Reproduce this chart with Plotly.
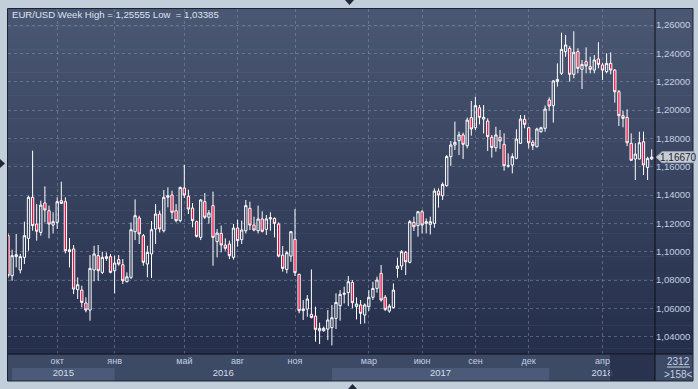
import plotly.graph_objects as go
import pandas as pd
import numpy as np

# ---------------- data (weekly EUR/USD candles) ----------------
opens = [1.1113, 1.0831, 1.0979, 1.0871, 1.0960, 1.1094, 1.1384, 1.1195, 1.1136, 1.1344,
         1.1289, 1.1188, 1.1207, 1.1360, 1.1353, 1.1014, 1.1019, 1.0732, 1.0729, 1.0638,
         1.0588, 1.0871, 1.0972, 1.0854, 1.0965, 1.0965, 1.0866, 1.0944, 1.0908, 1.0788,
         1.0819, 1.1141, 1.1238, 1.1113, 1.0913, 1.0984, 1.1160, 1.1266, 1.1148, 1.1384,
         1.1400, 1.1289, 1.1219, 1.1449, 1.1391, 1.1308, 1.1212, 1.1101, 1.1353, 1.1243,
         1.1325, 1.1071, 1.1129, 1.1047, 1.1054, 1.0960, 1.1167, 1.1085, 1.1148, 1.1306,
         1.1188, 1.1148, 1.1231, 1.1158, 1.1231, 1.1235, 1.1195, 1.0976, 1.0875, 1.0969,
         1.1087, 1.0840, 1.0584, 1.0595, 1.0558, 1.0546, 1.0442, 1.0442, 1.0454, 1.0464,
         1.0529, 1.0619, 1.0699, 1.0711, 1.0783, 1.0612, 1.0624, 1.0553, 1.0612, 1.0678,
         1.0741, 1.0847, 1.0678, 1.0581, 1.0605, 1.0882, 1.0899, 1.0995, 1.0925, 1.1207,
         1.1184, 1.1282, 1.1200, 1.1193, 1.1200, 1.1428, 1.1395, 1.1466, 1.1671, 1.1753,
         1.1784, 1.1824, 1.1748, 1.1946, 1.1875, 1.2016, 1.1936, 1.1922, 1.1807, 1.1734,
         1.1807, 1.1758, 1.1603, 1.1612, 1.1659, 1.1765, 1.1934, 1.1875, 1.1772, 1.1741,
         1.1847, 1.1871, 1.2071, 1.2031, 1.2200, 1.2259, 1.2412, 1.2435, 1.2252, 1.2412,
         1.2287, 1.2341, 1.2306, 1.2282, 1.2360, 1.2318, 1.2271, 1.2329, 1.2282, 1.2129,
         1.1960, 1.1948, 1.1765, 1.1654, 1.1654, 1.1776, 1.1595, 1.1655]
highs = [1.1130, 1.1014, 1.1125, 1.0984, 1.1212, 1.1395, 1.1713, 1.1336, 1.1360, 1.1461,
         1.1325, 1.1278, 1.1384, 1.1494, 1.1384, 1.1096, 1.1047, 1.0819, 1.0760, 1.0678,
         1.0976, 1.1042, 1.1047, 1.1000, 1.0995, 1.0984, 1.0972, 1.0976, 1.0948, 1.0854,
         1.1207, 1.1369, 1.1254, 1.1125, 1.1042, 1.1216, 1.1336, 1.1289, 1.1435, 1.1454,
         1.1431, 1.1336, 1.1459, 1.1614, 1.1438, 1.1343, 1.1219, 1.1372, 1.1414, 1.1294,
         1.1424, 1.1160, 1.1184, 1.1094, 1.1078, 1.1195, 1.1226, 1.1219, 1.1365, 1.1353,
         1.1247, 1.1325, 1.1285, 1.1259, 1.1278, 1.1242, 1.1207, 1.1040, 1.1007, 1.1146,
         1.1301, 1.0845, 1.0659, 1.0694, 1.0875, 1.0612, 1.0499, 1.0471, 1.0588, 1.0624,
         1.0706, 1.0729, 1.0753, 1.0828, 1.0800, 1.0678, 1.0659, 1.0635, 1.0729, 1.0788,
         1.0824, 1.0906, 1.0694, 1.0631, 1.0776, 1.0958, 1.1012, 1.1005, 1.1224, 1.1247,
         1.1287, 1.1294, 1.1235, 1.1247, 1.1447, 1.1447, 1.1489, 1.1682, 1.1781, 1.1918,
         1.1847, 1.1840, 1.1946, 1.2064, 1.2094, 1.2035, 1.2035, 1.1941, 1.1824, 1.1882,
         1.1859, 1.1835, 1.1694, 1.1694, 1.1864, 1.1965, 1.1965, 1.1882, 1.1788, 1.1875,
         1.1882, 1.2031, 1.2089, 1.2212, 1.2329, 1.2546, 1.2529, 1.2452, 1.25555, 1.2435,
         1.2353, 1.2442, 1.2376, 1.2388, 1.2478, 1.2334, 1.2400, 1.2407, 1.2289, 1.2141,
         1.1995, 1.2005, 1.1835, 1.1765, 1.1847, 1.1847, 1.1670, 1.1722]
lows = [1.0815, 1.0795, 1.0889, 1.0847, 1.0913, 1.1007, 1.1148, 1.1078, 1.1113, 1.1207,
        1.1094, 1.1129, 1.1160, 1.1336, 1.0988, 1.0889, 1.0701, 1.0666, 1.0607, 1.0572,
        1.0513, 1.0791, 1.0795, 1.0842, 1.0936, 1.0847, 1.0706, 1.0901, 1.0772, 1.0784,
        1.0807, 1.1082, 1.1054, 1.0901, 1.0819, 1.0814, 1.1054, 1.1136, 1.1136, 1.1313,
        1.1231, 1.1207, 1.1207, 1.1379, 1.1266, 1.1172, 1.1101, 1.1082, 1.1231, 1.1198,
        1.0901, 1.0960, 1.0995, 1.1007, 1.0948, 1.0944, 1.1035, 1.1054, 1.1129, 1.1153,
        1.1144, 1.1129, 1.1136, 1.1118, 1.1148, 1.1101, 1.0960, 1.0859, 1.0847, 1.0929,
        1.0828, 1.0565, 1.0518, 1.0541, 1.0529, 1.0365, 1.0348, 1.0435, 1.0376, 1.03385,
        1.0454, 1.0513, 1.0635, 1.0616, 1.0600, 1.0522, 1.0489, 1.0494, 1.0581, 1.0659,
        1.0711, 1.0647, 1.0581, 1.0569, 1.0600, 1.0816, 1.0871, 1.0835, 1.0918, 1.1146,
        1.1106, 1.1129, 1.1129, 1.1122, 1.1169, 1.1311, 1.1365, 1.1459, 1.1605, 1.1718,
        1.1682, 1.1654, 1.1729, 1.1819, 1.1859, 1.1899, 1.1835, 1.1711, 1.1664, 1.1706,
        1.1725, 1.1572, 1.1593, 1.1553, 1.1652, 1.1760, 1.1871, 1.1729, 1.1718, 1.1736,
        1.1840, 1.1847, 1.1995, 1.1911, 1.2165, 1.2247, 1.2376, 1.2200, 1.2224, 1.2259,
        1.2148, 1.2259, 1.2259, 1.2259, 1.2294, 1.2212, 1.2259, 1.2252, 1.2052, 1.1887,
        1.1878, 1.1745, 1.1642, 1.1506, 1.1652, 1.1541, 1.1506, 1.1647]
closes = [1.0831, 1.0972, 1.0965, 1.0965, 1.1113, 1.1384, 1.1184, 1.1144, 1.1329, 1.1294,
          1.1195, 1.1212, 1.1353, 1.1341, 1.1007, 1.1000, 1.0736, 1.0767, 1.0642, 1.0588,
          1.0882, 1.0984, 1.0866, 1.0960, 1.0953, 1.0854, 1.0920, 1.0913, 1.0795, 1.0823,
          1.1155, 1.1254, 1.1125, 1.0925, 1.0995, 1.1155, 1.1266, 1.1160, 1.1384, 1.1395,
          1.1278, 1.1219, 1.1454, 1.1400, 1.1301, 1.1219, 1.1108, 1.1365, 1.1243, 1.1273,
          1.1101, 1.1132, 1.1047, 1.1024, 1.0972, 1.1167, 1.1078, 1.1153, 1.1325, 1.1188,
          1.1153, 1.1231, 1.1144, 1.1231, 1.1240, 1.1200, 1.0969, 1.0882, 1.0993, 1.1141,
          1.0852, 1.0584, 1.0595, 1.0666, 1.0536, 1.0452, 1.0459, 1.0459, 1.0518, 1.0534,
          1.0642, 1.0699, 1.0706, 1.0788, 1.0640, 1.0631, 1.0565, 1.0624, 1.0678, 1.0741,
          1.0800, 1.0659, 1.0593, 1.0616, 1.0729, 1.0899, 1.1000, 1.0929, 1.1212, 1.1176,
          1.1282, 1.1188, 1.1212, 1.1212, 1.1428, 1.1400, 1.1475, 1.1671, 1.1753, 1.1772,
          1.1824, 1.1758, 1.1929, 1.1866, 1.2031, 1.1948, 1.1948, 1.1812, 1.1736, 1.1824,
          1.1781, 1.1607, 1.1606, 1.1671, 1.1795, 1.1936, 1.1899, 1.1769, 1.1748, 1.1866,
          1.1875, 1.2007, 1.2028, 1.2205, 1.2216, 1.2428, 1.2459, 1.2252, 1.2407, 1.2294,
          1.2322, 1.2311, 1.2287, 1.2353, 1.2322, 1.2282, 1.2329, 1.2282, 1.2129, 1.1960,
          1.1941, 1.1769, 1.1645, 1.1689, 1.1769, 1.1612, 1.1659, 1.1667]

# week dates (Mondays) plus the three short holiday bars the terminal shows
weekly = list(pd.date_range("2015-07-13", "2018-06-25", freq="W-MON").strftime("%Y-%m-%d"))
holiday_bars = ["2015-12-25", "2016-12-25", "2017-12-24"]
dates = sorted(weekly + holiday_bars)

price_ticks = [1.04, 1.06, 1.08, 1.10, 1.12, 1.14, 1.16, 1.18, 1.20, 1.22, 1.24, 1.26]
tick_months = ["2015-10-01", "2016-01-01", "2016-05-01", "2016-08-01", "2016-11-01",
               "2017-03-01", "2017-06-01", "2017-09-01", "2017-12-01", "2018-04-01"]
tick_text = ["окт", "янв", "май", "авг", "ноя", "мар", "июн", "сен", "дек", "апр"]
years = ["2015", "2016", "2017", "2018"]
title_text = "EUR/USD Week High = 1,25555 Low\u00a0 = 1,03385"
counter_text = "2312"

# ---------------- geometry ----------------
W, H = 698, 389
PL, PR, PT, PB = 8, 655, 9, 354      # plot area in px
RPX = 693                             # right panel right edge
BBY = 381                             # bottom panel bottom edge
BAR_PX = 4.1                          # px per bar

n = len(opens)
idx = list(range(n))
dts = pd.to_datetime(dates[:n])

def first_bar(d):
    return int(np.argmax(dts >= pd.Timestamp(d)))

tick_pos = [first_bar(m) for m in tick_months]
x_lo = 0.0
x_hi = (PR - PL) / BAR_PX
y_per_px = 0.02 / 28.34
y_hi = 1.26 + (25.0 - PT) * y_per_px
y_lo = 1.04 - (PB - 336.7) * y_per_px

def xp(px):
    return (px - PL) / (PR - PL)

def yp(py):
    return (PB - py) / (PB - PT)

FONT = "Liberation Sans, Arial, sans-serif"
LBL = "#c4cfe0"

fig = go.Figure()
fig.add_trace(go.Candlestick(
    x=idx, open=opens, high=highs, low=lows, close=closes,
    increasing=dict(line=dict(color="#ffffff", width=1), fillcolor="rgba(0,0,0,0)"),
    decreasing=dict(line=dict(color="#ffffff", width=1), fillcolor="#e8103c"),
    whiskerwidth=0, showlegend=False, text=dates[:n], hoverinfo="text+y",
))

# year bands computed from dates
ystarts = [max(first_bar(y + "-01-01"), 1) for y in years]
yends = ystarts[1:] + [x_hi]
year_centers = [(a + b) / 2 for a, b in zip(ystarts, yends)]
fig.add_trace(go.Scatter(x=year_centers, y=[None] * len(years), xaxis="x2",
                         showlegend=False, hoverinfo="skip"))

shapes = []
# frame gradient behind plot + right panel
top_c = np.array([75, 88, 115])
bot_c = np.array([37, 47, 76])
NB = 60
for k in range(NB):
    t = (k + 0.5) / NB
    c = top_c + (bot_c - top_c) * t
    y1 = PT + (PB - PT) * k / NB
    y2 = PT + (PB - PT) * (k + 1) / NB + 0.6
    shapes.append(dict(type="rect", xref="paper", yref="paper", layer="below",
                       x0=xp(PL), x1=xp(RPX), y0=yp(y2), y1=yp(y1),
                       fillcolor="rgb(%d,%d,%d)" % tuple(c.astype(int)), line=dict(width=0)))
# bottom panel
shapes.append(dict(type="rect", xref="paper", yref="paper", layer="below",
                   x0=xp(PL), x1=xp(RPX), y0=yp(BBY), y1=yp(PB),
                   fillcolor="#3d4a66", line=dict(width=0)))
# alternating year bands
for k, (a, b) in enumerate(zip(ystarts, yends)):
    if k % 2 == 0:
        shapes.append(dict(type="rect", xref="x", yref="paper", layer="below",
                           x0=a, x1=b, y0=yp(BBY), y1=yp(368),
                           fillcolor="#4b5a78", line=dict(width=0)))
# dark overlay on the bottom axis (current view marker)
shapes.append(dict(type="rect", xref="paper", yref="paper", layer="above",
                   x0=xp(610), x1=xp(PR), y0=yp(BBY), y1=yp(PB + 0.5),
                   fillcolor="rgba(36,46,74,0.82)", line=dict(width=0)))
# separator lines
shapes.append(dict(type="line", xref="paper", yref="paper", layer="above",
                   x0=xp(PR), x1=xp(PR), y0=yp(BBY), y1=yp(PT),
                   line=dict(color="#0c0f16", width=1)))
shapes.append(dict(type="line", xref="paper", yref="paper", layer="above",
                   x0=xp(PL), x1=xp(RPX), y0=yp(PB), y1=yp(PB),
                   line=dict(color="#0c0f16", width=1)))
# outer border
shapes.append(dict(type="rect", xref="paper", yref="paper", layer="above",
                   x0=xp(PL - 0.5), x1=xp(RPX), y0=yp(BBY), y1=yp(PT - 0.5),
                   line=dict(color="#1c2232", width=1), fillcolor="rgba(0,0,0,0)"))
# counter underline
shapes.append(dict(type="line", xref="paper", yref="paper", layer="above",
                   x0=xp(667), x1=xp(690), y0=yp(367), y1=yp(367),
                   line=dict(color=LBL, width=1)))
# current price marker
last = closes[-1]
hh = 5.5 * y_per_px
path = "M %f,%f L %f,%f L %f,%f L %f,%f L %f,%f Z" % (
    xp(656), last, xp(662), last + hh, xp(694), last + hh, xp(694), last - hh, xp(662), last - hh)
shapes.append(dict(type="path", xref="paper", yref="y", layer="above", path=path,
                   fillcolor="#c9ced6", line=dict(color="#9aa3b0", width=1)))
# UI triangles
def tri(pts):
    s = "M " + " L ".join("%f,%f" % (xp(a), yp(b)) for a, b in pts) + " Z"
    return dict(type="path", xref="paper", yref="paper", layer="above", path=s,
                fillcolor="#1f2738", line=dict(width=0))
shapes.append(tri([(345, 0), (354, 0), (349.5, 5)]))
shapes.append(tri([(348, 389), (357, 389), (352.5, 384)]))
shapes.append(tri([(0, 159), (0, 168), (5, 163.5)]))

annotations = [
    dict(text=title_text, xref="paper", yref="paper", x=xp(10), y=yp(14.5),
         xanchor="left", yanchor="middle", showarrow=False,
         font=dict(family=FONT, size=9.6, color="#dde4ee")),
    dict(text=("%.5f" % last).replace(".", ","), xref="paper", yref="y", x=xp(678), y=last,
         xanchor="center", yanchor="middle", showarrow=False,
         font=dict(family=FONT, size=10, color="#1b2230")),
    dict(text=counter_text, xref="paper", yref="paper", x=xp(678), y=yp(361),
         xanchor="center", yanchor="middle", showarrow=False,
         font=dict(family=FONT, size=10, color=LBL)),
    dict(text=">%d<" % n, xref="paper", yref="paper", x=xp(678), y=yp(374.5),
         xanchor="center", yanchor="middle", showarrow=False,
         font=dict(family=FONT, size=10, color=LBL)),
]

fig.update_layout(
    width=W, height=H, autosize=False,
    margin=dict(l=PL, r=W - PR, t=PT, b=H - PB, pad=0),
    paper_bgcolor="#c3cedb", plot_bgcolor="rgba(0,0,0,0)",
    separators=", ", boxgap=0.2,
    font=dict(family=FONT, size=9, color=LBL),
    showlegend=False, hovermode=False,
    xaxis=dict(range=[x_lo, x_hi], tickvals=tick_pos, ticktext=tick_text,
               showgrid=True, gridcolor="rgba(140,158,192,0.45)", griddash="3px,3px",
               gridwidth=1, zeroline=False, showline=False, ticks="",
               tickfont=dict(size=9, color=LBL), rangeslider=dict(visible=False),
               fixedrange=True),
    xaxis2=dict(range=[x_lo, x_hi], overlaying="x", anchor="free", position=0,
                side="bottom", tickvals=year_centers, ticktext=years, showgrid=False,
                zeroline=False, showline=False, ticks="", ticklabelstandoff=11,
                tickfont=dict(size=9.5, color="#d4dcea"), fixedrange=True),
    yaxis=dict(range=[y_lo, y_hi], side="right", tickvals=price_ticks, tickformat=".5f",
               showgrid=True, gridcolor="rgba(140,158,192,0.45)", griddash="3px,3px",
               gridwidth=1, zeroline=False, showline=False, ticks="",
               tickfont=dict(size=9.5, color=LBL), fixedrange=True),
    shapes=shapes, annotations=annotations,
)

fig.write_html("out.html", config={"displayModeBar": False},
               post_script="document.body.style.margin='0px';document.body.style.overflow='hidden';")
